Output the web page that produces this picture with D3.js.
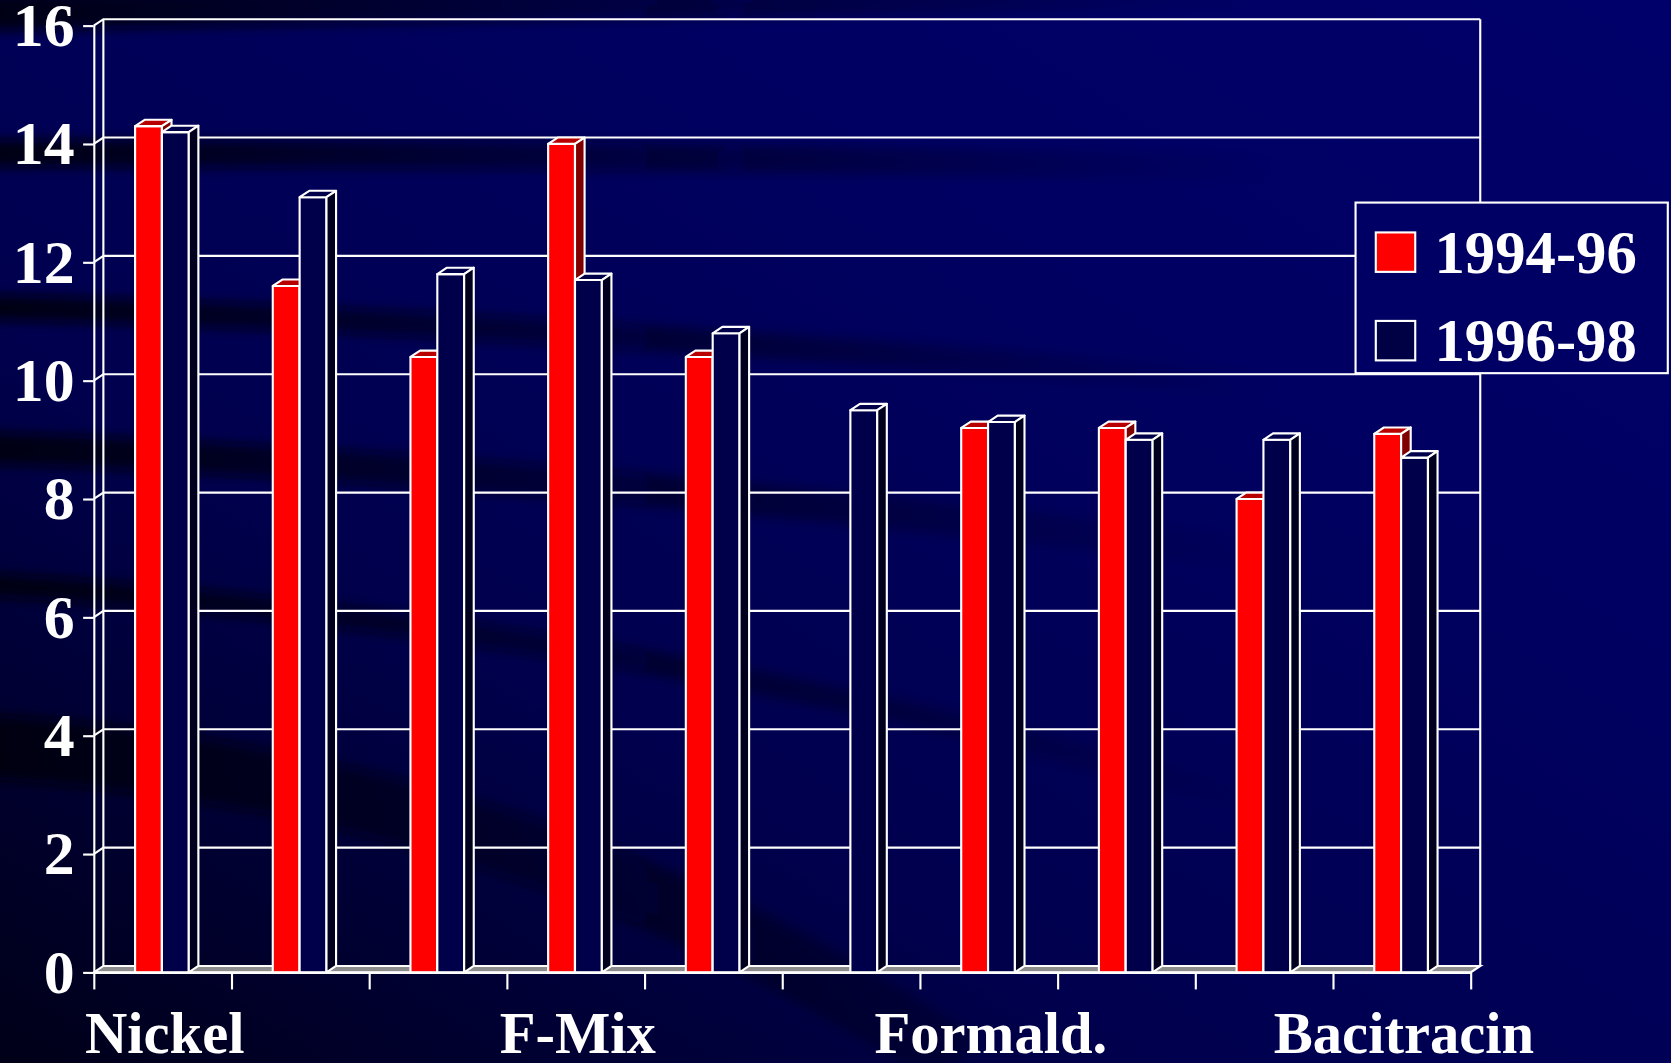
<!DOCTYPE html>
<html>
<head>
<meta charset="utf-8">
<script src="https://cdn.jsdelivr.net/npm/d3@7"></script>
<style>
  html, body { margin: 0; padding: 0; background: #000060; overflow: hidden; }
  svg { display: block; }
  text { font-family: "Liberation Serif", "Times New Roman", serif; font-weight: bold; fill: #fff; }
</style>
</head>
<body>
<div class="box"></div>
<script>
// données
const categories = ["Nickel", "", "", "F-Mix", "", "", "Formald.", "", "", "Bacitracin"];
const series = ["1994-96", "1996-98"];
const valeurs9496 = [14.3, 11.6, 10.4, 14.0, 10.4, null, 9.2, 9.2, 8.0, 9.1];
const valeurs9698 = [14.2, 13.1, 11.8, 11.7, 10.8, 9.5, 9.3, 9.0, 9.0, 8.7];
const yTicks = [0, 2, 4, 6, 8, 10, 12, 14, 16];

// mise en place (coordonnées du dessin 1568x997, étirées sur la fenêtre)
const W = 1568, H = 997;
const dims = {left: 88, right: 1380, top: 24, bottom: 912};
const prof = {dx: 9, dy: -6};   // profondeur 3D

const couleurs = {
  face: ["#ff0000", "#00004a"],
  dessus: ["#b80000", "#00004a"],
  cote: ["#800000", "#00001e"]
};

const svg = d3.select('.box')
              .append('svg')
              .attr('width', 1671)
              .attr('height', 1063)
              .attr('viewBox', `0 0 ${W} ${H}`)
              .attr('preserveAspectRatio', 'none');

//////////////////fond///////////////////////

const defs = svg.append('defs');

const fondGrad = defs.append('linearGradient')
                     .attr('id', 'fond')
                     .attr('x1', 0).attr('y1', 1).attr('x2', 1).attr('y2', 0);
fondGrad.append('stop').attr('offset', 0).attr('stop-color', '#000018');
fondGrad.append('stop').attr('offset', 0.35).attr('stop-color', '#00004e');
fondGrad.append('stop').attr('offset', 0.7).attr('stop-color', '#000062');
fondGrad.append('stop').attr('offset', 1).attr('stop-color', '#00006a');

svg.append('rect')
   .attr('width', W).attr('height', H)
   .attr('fill', 'url(#fond)');

const ombre = defs.append('linearGradient')
                  .attr('id', 'ombre')
                  .attr('gradientUnits', 'userSpaceOnUse')
                  .attr('x1', 0).attr('y1', 0).attr('x2', 1200).attr('y2', 0);
ombre.append('stop').attr('offset', 0).attr('stop-color', '#000010').attr('stop-opacity', 0.9);
ombre.append('stop').attr('offset', 0.45).attr('stop-color', '#000010').attr('stop-opacity', 0.45);
ombre.append('stop').attr('offset', 1).attr('stop-color', '#000010').attr('stop-opacity', 0);

defs.append('filter').attr('id', 'flou')
    .append('feGaussianBlur').attr('stdDeviation', 5);

const bandes = [
  {d: 'M-20,12 Q500,2 1300,-10', w: 34},
  {d: 'M-20,144 Q500,142 1300,160', w: 26},
  {d: 'M-20,288 Q500,300 1300,370', w: 24},
  {d: 'M-20,420 Q600,440 1500,560', w: 30},
  {d: 'M-20,548 Q700,590 1400,820', w: 22},
  {d: 'M-20,700 Q500,730 900,997', w: 60}
];

svg.append('g')
   .attr('filter', 'url(#flou)')
   .selectAll('path')
   .data(bandes)
   .enter()
   .append('path')
   .attr('d', d => d.d)
   .attr('fill', 'none')
   .attr('stroke', 'url(#ombre)')
   .attr('stroke-width', d => d.w);

//////////////////échelles///////////////////////

const y = d3.scaleLinear()
            .domain([0, 16])
            .range([dims.bottom, dims.top]);

const x = d3.scaleBand()
            .domain(d3.range(categories.length))
            .range([dims.left, dims.right])
            .padding(0);

const xBords = d3.scaleLinear()
                 .domain([0, categories.length])
                 .range([dims.left, dims.right]);

const bw = x.bandwidth();
const barW = bw * 0.195;
const barOff = bw * 0.30;

//////////////////murs et grille///////////////////////

const murs = svg.append('g')
                .attr('stroke', '#fff')
                .attr('stroke-width', 2)
                .attr('fill', 'none');

// sol
murs.append('path')
    .attr('d', `M${dims.left},${y(0)} L${dims.left + prof.dx},${y(0) + prof.dy} L${dims.right + prof.dx},${y(0) + prof.dy} L${dims.right},${y(0)} Z`)
    .attr('fill', '#8c8c8c');

// lignes de la grille (mur du fond + mur de gauche)
murs.selectAll('.grille')
    .data(yTicks.filter(t => t > 0))
    .enter()
    .append('path')
    .attr('class', 'grille')
    .attr('d', t => `M${dims.left},${y(t)} L${dims.left + prof.dx},${y(t) + prof.dy} L${dims.right + prof.dx},${y(t) + prof.dy}`);

// cadre du fond
murs.append('path')
    .attr('d', `M${dims.left + prof.dx},${y(0) + prof.dy} V${y(16) + prof.dy} M${dims.right + prof.dx},${y(16) + prof.dy} V${y(0) + prof.dy}`);

//////////////////barres 3D///////////////////////

const donnees = [];
categories.forEach((c, i) => {
  [valeurs9496[i], valeurs9698[i]].forEach((v, s) => {
    if (v != null) donnees.push({i, s, v});
  });
});

const barres = svg.append('g')
                  .attr('stroke', '#fff')
                  .attr('stroke-width', 2)
                  .attr('stroke-linejoin', 'round');

const groupes = barres.selectAll('g')
                      .data(donnees)
                      .enter()
                      .append('g');

groupes.each(function(d) {
  const g = d3.select(this);
  const x0 = x(d.i) + barOff + d.s * barW;
  const x1 = x0 + barW;
  const yt = y(d.v), yb = y(0);
  // face avant
  g.append('rect')
   .attr('x', x0).attr('y', yt)
   .attr('width', barW).attr('height', yb - yt)
   .attr('fill', couleurs.face[d.s]);
  // dessus
  g.append('path')
   .attr('d', `M${x0},${yt} L${x0 + prof.dx},${yt + prof.dy} L${x1 + prof.dx},${yt + prof.dy} L${x1},${yt} Z`)
   .attr('fill', couleurs.dessus[d.s]);
  // côté
  g.append('path')
   .attr('d', `M${x1},${yt} L${x1 + prof.dx},${yt + prof.dy} L${x1 + prof.dx},${yb + prof.dy} L${x1},${yb} Z`)
   .attr('fill', couleurs.cote[d.s]);
});

//////////////////axes///////////////////////

const axeY = svg.append('g')
                .attr('transform', `translate(${dims.left}, 0)`)
                .call(d3.axisLeft(y).tickValues(yTicks).tickSize(10).tickSizeOuter(0).tickPadding(8));

const axeX = svg.append('g')
                .attr('transform', `translate(0, ${dims.bottom})`)
                .call(d3.axisBottom(xBords).tickValues(d3.range(categories.length + 1)).tickFormat('').tickSize(16).tickSizeOuter(0));

[axeY, axeX].forEach(a => {
  a.selectAll('path, line').attr('stroke', '#fff').attr('stroke-width', 2);
});

axeY.selectAll('text')
    .attr('fill', '#fff')
    .attr('font-size', 58)
    .attr('font-family', '"Liberation Serif", "Times New Roman", serif')
    .attr('font-weight', 'bold');

svg.append('g')
   .selectAll('text')
   .data(categories.map((c, i) => ({c, i})).filter(d => d.c !== ''))
   .enter()
   .append('text')
   .attr('x', d => x(d.i) + bw / 2 + 2)
   .attr('y', 988)
   .attr('text-anchor', 'middle')
   .attr('font-size', 55)
   .text(d => d.c);

//////////////////légende///////////////////////

const legende = svg.append('g')
                   .attr('transform', 'translate(1272, 190)');

legende.append('rect')
       .attr('width', 293).attr('height', 160)
       .attr('fill', '#000064')
       .attr('stroke', '#fff')
       .attr('stroke-width', 2);

const items = legende.selectAll('.item')
                     .data(series)
                     .enter()
                     .append('g')
                     .attr('class', 'item')
                     .attr('transform', (d, i) => `translate(19, ${28 + i * 83})`);

items.append('rect')
     .attr('width', 37).attr('height', 37)
     .attr('fill', (d, i) => i === 0 ? couleurs.face[0] : '#000044')
     .attr('stroke', '#fff')
     .attr('stroke-width', 2);

items.append('text')
     .attr('x', 55)
     .attr('y', 38)
     .attr('font-size', 57)
     .text(d => d);
</script>
</body>
</html>
